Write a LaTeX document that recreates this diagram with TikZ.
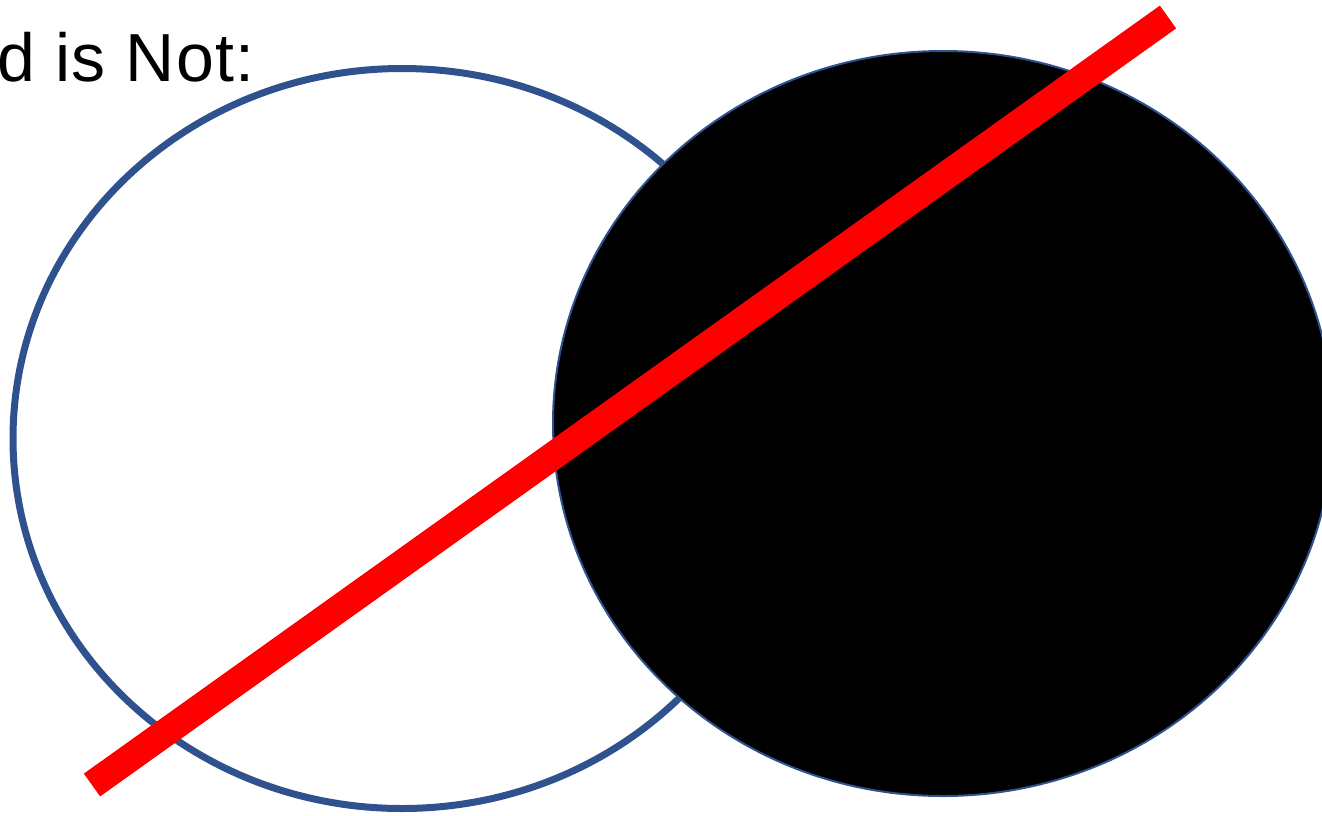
\documentclass[tikz,border=0pt]{standalone}
\usepackage{fontspec}
\setmainfont{Liberation Sans}
\newfontfamily\titlefont[LetterSpace=2.0]{Liberation Sans}
\definecolor{ringblue}{RGB}{47,82,143}
\definecolor{barred}{RGB}{255,0,0}
\tikzset{
  ring/.style={draw=ringblue, line width=7pt},
  disc/.style={draw=ringblue, line width=2pt, fill=black},
  bar/.style={draw=barred, line width=28pt},
}
\begin{document}
\begin{tikzpicture}[x=1pt,y=-1pt]
\useasboundingbox (0,0) rectangle (1322,815);
\clip (0,0) rectangle (1322,815);
\node[anchor=base west, inner sep=0pt, font=\titlefont\fontsize{68}{80}\selectfont] (title) at (-3,81) {d is Not:};
\draw[ring] (402,438.5) ellipse [x radius=389, y radius=370];
\draw[disc] (943,423.5) ellipse [x radius=390, y radius=372.5];
\coordinate (a) at (92,785);
\coordinate (b) at (1168,17);
\draw[bar] (a) -- (b);
\end{tikzpicture}
\end{document}
